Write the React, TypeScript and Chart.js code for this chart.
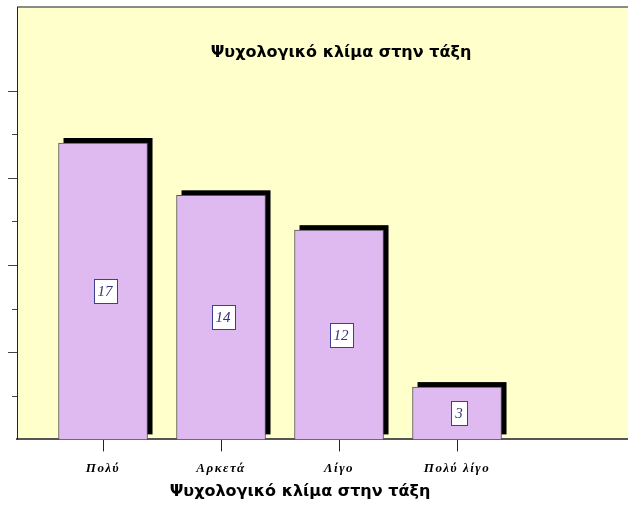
import React, { useEffect, useRef } from "react";
import { Chart, registerables } from "chart.js";

Chart.register(...registerables);

const categories = ["Πολύ", "Αρκετά", "Λίγο", "Πολύ λίγο"];
const values = [17, 14, 12, 3];
const yTickValues = [2.5, 5, 7.5, 10, 12.5, 15, 17.5, 20];
const titleText = "Ψυχολογικό κλίμα στην τάξη";
const axisTitleText = "Ψυχολογικό κλίμα στην τάξη";

const decorPlugin = {
  id: "decor",
  beforeDraw(chart: any) {
    const { ctx, chartArea } = chart;
    ctx.save();
    ctx.fillStyle = "#FFFFCC";
    ctx.fillRect(chartArea.left, chartArea.top, chartArea.right - chartArea.left, chartArea.bottom - chartArea.top);
    ctx.fillStyle = "#8a8a8a";
    ctx.fillRect(chartArea.left, chartArea.top - 1, chartArea.right - chartArea.left, 2);
    ctx.restore();
    ctx.letterSpacing = "1.5px";
  },
  beforeDatasetsDraw(chart: any) {
    const { ctx, chartArea } = chart;
    ctx.letterSpacing = "0px";
    const y = chart.scales.y;
    ctx.save();
    ctx.strokeStyle = "#222";
    ctx.lineWidth = 1;
    ctx.beginPath();
    ctx.moveTo(chartArea.left + 0.5, chartArea.top);
    ctx.lineTo(chartArea.left + 0.5, chartArea.bottom);
    ctx.stroke();
    ctx.strokeStyle = "#444";
    yTickValues.forEach((v) => {
      const py = Math.round(y.getPixelForValue(v)) + 0.5;
      const major = v % 5 === 0;
      ctx.beginPath();
      ctx.moveTo(chartArea.left - (major ? 9 : 5), py);
      ctx.lineTo(chartArea.left, py);
      ctx.stroke();
    });
    const meta = chart.getDatasetMeta(0);
    ctx.fillStyle = "#000";
    meta.data.forEach((bar: any) => {
      const w = bar.width;
      ctx.fillRect(bar.x - w / 2 + 5, bar.y - 5, w, bar.base - bar.y);
    });
    ctx.restore();
  },
  afterDatasetsDraw(chart: any) {
    const { ctx } = chart;
    const meta = chart.getDatasetMeta(0);
    ctx.save();
    ctx.letterSpacing = "0px";
    ctx.font = "italic 15px 'Liberation Serif'";
    ctx.textAlign = "center";
    ctx.textBaseline = "middle";
    meta.data.forEach((bar: any, i: number) => {
      const text = String(values[i]);
      const cx = bar.x + 2;
      const cy = (bar.y + bar.base) / 2;
      const tw = ctx.measureText(text).width;
      const bw = Math.round(tw + 8);
      const bh = 24;
      const lx = Math.round(cx - bw / 2) + 0.5;
      const ty = Math.round(cy - bh / 2) + 0.5;
      ctx.fillStyle = "#ffffff";
      ctx.fillRect(lx, ty, bw, bh);
      ctx.strokeStyle = "#3f3f8f";
      ctx.lineWidth = 1;
      ctx.strokeRect(lx, ty, bw, bh);
      ctx.fillStyle = "#33337f";
      ctx.fillText(text, cx, cy + 1);
    });
    ctx.restore();
  },
  afterDraw(chart: any) {
    const { ctx } = chart;
    ctx.save();
    ctx.letterSpacing = "0px";
    ctx.fillStyle = "#000";
    ctx.textAlign = "center";
    ctx.textBaseline = "middle";
    ctx.font = "bold 16px 'DejaVu Sans'";
    ctx.fillText(titleText, 341, 53);
    ctx.fillText(axisTitleText, 300, 492);
    ctx.restore();
  },
};

export default function App() {
  const ref = useRef<HTMLCanvasElement>(null);
  useEffect(() => {
    if (!ref.current) return;
    const chart = new Chart(ref.current, {
      type: "bar",
      data: {
        datasets: [
          {
            data: values.map((v, i) => ({ x: i, y: v })),
            backgroundColor: "#DEBAF0",
            borderColor: "#555555",
            borderWidth: 1,
            barThickness: 89,
          },
        ],
      },
      options: {
        responsive: false,
        animation: false,
        devicePixelRatio: 1,
        layout: { padding: { left: 17, top: 7, right: 0, bottom: 23 } },
        plugins: {
          legend: { display: false },
          tooltip: { enabled: false },
          title: { display: false },
        },
        scales: {
          x: {
            type: "linear",
            min: -0.729,
            max: 4.449,
            offset: false,
            afterBuildTicks: (scale: any) => {
              scale.ticks = categories.map((_, i) => ({ value: i }));
            },
            grid: {
              offset: false,
              drawOnChartArea: false,
              drawTicks: true,
              tickLength: 12,
              tickColor: "#222",
              tickWidth: 1,
            },
            border: { display: true, color: "#555", width: 2 },
            ticks: {
              autoSkip: false,
              maxRotation: 0,
              padding: 9,
              color: "#000",
              font: { family: "'Liberation Serif'", size: 13, style: "italic", weight: "bold" },
              callback: (v: any) => categories[v] ?? "",
            },
          },
          y: {
            display: false,
            min: 0,
            max: 24.8,
          },
        },
      },
      plugins: [decorPlugin],
    } as any);
    return () => chart.destroy();
  }, []);
  return (
    <div style={{ position: "absolute", left: 0, top: 0, width: 628, height: 508, background: "#fff" }}>
      <canvas ref={ref} width={628} height={508} />
    </div>
  );
}
